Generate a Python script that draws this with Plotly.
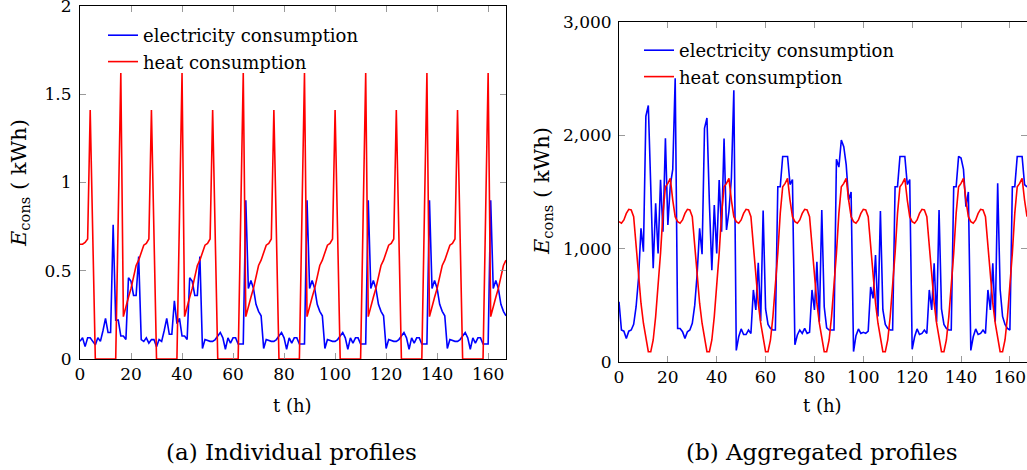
import plotly.graph_objects as go

# ---------------- data ----------------
hours = list(range(168))
x_tick_values = [0, 20, 40, 60, 80, 100, 120, 140, 160]

y_ticks_individual = [0, 0.5, 1, 1.5, 2]
y_ticklabels_individual = ["0", "0.5", "1", "1.5", "2"]
y_ticks_aggregated = [0, 1000, 2000, 3000]

elec_individual = [
    0.10, 0.12, 0.07, 0.12, 0.12, 0.10, 0.08, 0.12, 0.10, 0.16, 0.23, 0.15, 0.15, 0.76, 0.22, 0.22, 0.13, 0.13, 0.11, 0.46, 0.44, 0.36, 0.36, 0.58,
    0.11, 0.10, 0.12, 0.09, 0.11, 0.11, 0.07, 0.11, 0.10, 0.16, 0.23, 0.14, 0.14, 0.33, 0.20, 0.23, 0.13, 0.13, 0.11, 0.46, 0.44, 0.36, 0.36, 0.58,
    0.06, 0.11, 0.105, 0.10, 0.10, 0.11, 0.13, 0.15, 0.12, 0.055, 0.12, 0.09, 0.12, 0.12, 0.085, 0.085, 0.085, 0.90, 0.40, 0.445, 0.40, 0.31, 0.27, 0.245,
    0.06, 0.11, 0.105, 0.10, 0.10, 0.11, 0.13, 0.15, 0.12, 0.055, 0.12, 0.09, 0.12, 0.12, 0.085, 0.085, 0.085, 0.90, 0.40, 0.445, 0.40, 0.31, 0.27, 0.245,
    0.06, 0.11, 0.105, 0.10, 0.10, 0.11, 0.13, 0.15, 0.12, 0.055, 0.12, 0.09, 0.12, 0.12, 0.085, 0.085, 0.085, 0.90, 0.40, 0.445, 0.40, 0.31, 0.27, 0.245,
    0.06, 0.11, 0.105, 0.10, 0.10, 0.11, 0.13, 0.15, 0.12, 0.055, 0.12, 0.09, 0.12, 0.12, 0.085, 0.085, 0.085, 0.90, 0.40, 0.445, 0.40, 0.31, 0.27, 0.245,
    0.06, 0.11, 0.105, 0.10, 0.10, 0.11, 0.13, 0.15, 0.12, 0.055, 0.12, 0.09, 0.12, 0.12, 0.085, 0.085, 0.085, 0.90, 0.40, 0.445, 0.40, 0.31, 0.27, 0.245,
]

heat_individual = [
    0.65, 0.65, 0.66, 0.68, 1.41, 0.70, 0, 0, 0, 0, 0, 0, 0, 0, 0, 0.81, 1.62, 0.24, 0.30, 0.35, 0.40, 0.46, 0.53, 0.56,
    0.60, 0.645, 0.655, 0.68, 1.41, 0.70, 0, 0, 0, 0, 0, 0, 0, 0, 0, 0.81, 1.62, 0.24, 0.30, 0.35, 0.40, 0.46, 0.53, 0.56,
    0.60, 0.645, 0.655, 0.68, 1.41, 0.70, 0, 0, 0, 0, 0, 0, 0, 0, 0, 0.81, 1.62, 0.24, 0.30, 0.35, 0.40, 0.46, 0.53, 0.56,
    0.60, 0.645, 0.655, 0.68, 1.41, 0.70, 0, 0, 0, 0, 0, 0, 0, 0, 0, 0.81, 1.62, 0.24, 0.30, 0.35, 0.40, 0.46, 0.53, 0.56,
    0.60, 0.645, 0.655, 0.68, 1.41, 0.70, 0, 0, 0, 0, 0, 0, 0, 0, 0, 0.81, 1.62, 0.24, 0.30, 0.35, 0.40, 0.46, 0.53, 0.56,
    0.60, 0.645, 0.655, 0.68, 1.41, 0.70, 0, 0, 0, 0, 0, 0, 0, 0, 0, 0.81, 1.62, 0.24, 0.30, 0.35, 0.40, 0.46, 0.53, 0.56,
    0.60, 0.645, 0.655, 0.68, 1.41, 0.70, 0, 0, 0, 0, 0, 0, 0, 0, 0, 0.81, 1.62, 0.24, 0.30, 0.35, 0.40, 0.46, 0.53, 0.56,
]

elec_aggregated = [
    530, 280, 270, 206, 270, 280, 330, 486, 740, 1179, 973, 2170, 2265, 1550, 826, 1400, 957, 1608, 1148, 1974, 1208, 1560, 1700, 2505,
    293, 293, 265, 206, 265, 280, 339, 500, 780, 1179, 950, 2063, 2155, 1400, 808, 1384, 957, 1605, 1148, 1973, 1164, 1330, 1620, 2400,
    100, 220, 290, 240, 240, 280, 250, 634, 457, 875, 360, 1337, 466, 330, 295, 280, 280, 1547, 1547, 1814, 1814, 1814, 1566, 1610,
    150, 236, 280, 250, 295, 250, 260, 634, 457, 884, 354, 1341, 486, 300, 280, 280, 280, 1790, 1720, 1960, 1900, 1740, 1430, 1500,
    90, 230, 289, 250, 260, 250, 270, 660, 560, 943, 400, 1332, 460, 330, 295, 280, 280, 1547, 1547, 1814, 1814, 1814, 1566, 1610,
    110, 220, 290, 240, 250, 280, 250, 634, 457, 870, 354, 1340, 466, 330, 295, 280, 280, 1547, 1547, 1815, 1800, 1700, 1370, 1500,
    100, 220, 290, 240, 250, 280, 250, 634, 457, 870, 354, 1577, 640, 400, 330, 295, 280, 1547, 1547, 1814, 1814, 1814, 1566, 1545,
]

heat_aggregated = [
    1238, 1224, 1253, 1311, 1347, 1341, 1282, 1017, 752, 517, 340, 222, 88, 88, 192, 399, 664, 958, 1311, 1547, 1576, 1621, 1429, 1282,
    1238, 1224, 1253, 1311, 1347, 1341, 1282, 1017, 752, 517, 340, 222, 88, 88, 192, 399, 664, 958, 1311, 1547, 1576, 1621, 1429, 1282,
    1238, 1224, 1253, 1311, 1347, 1341, 1282, 1017, 752, 517, 340, 222, 88, 88, 192, 399, 664, 958, 1311, 1547, 1576, 1621, 1429, 1282,
    1238, 1224, 1253, 1311, 1347, 1341, 1282, 1017, 752, 517, 340, 222, 88, 88, 192, 399, 664, 958, 1311, 1547, 1576, 1621, 1429, 1282,
    1238, 1224, 1253, 1311, 1347, 1341, 1282, 1017, 752, 517, 340, 222, 88, 88, 192, 399, 664, 958, 1311, 1547, 1576, 1621, 1429, 1282,
    1238, 1224, 1253, 1311, 1347, 1341, 1282, 1017, 752, 517, 340, 222, 88, 88, 192, 399, 664, 958, 1311, 1547, 1576, 1621, 1429, 1282,
    1238, 1224, 1253, 1311, 1347, 1341, 1282, 1017, 752, 517, 340, 222, 88, 88, 192, 399, 664, 958, 1311, 1547, 1576, 1621, 1429, 1282,
]

series_names = ["electricity consumption", "heat consumption"]
x_title = "t (h)"
y_title = "<i>E</i><sub>cons</sub> ( kWh)"
captions = ["(a) Individual profiles", "(b) Aggregated profiles"]

# ---------------- figure ----------------
W, H = 1027, 470
FONT = "DejaVu Serif"
BLUE, RED = "#0000ff", "#ff0000"
LW = 1.6

fig = go.Figure()
fig.add_trace(go.Scatter(x=hours, y=elec_individual, name=series_names[0], mode="lines",
                         line=dict(color=BLUE, width=LW), xaxis="x", yaxis="y", legend="legend"))
fig.add_trace(go.Scatter(x=hours, y=heat_individual, name=series_names[1], mode="lines",
                         line=dict(color=RED, width=LW), xaxis="x", yaxis="y", legend="legend"))
fig.add_trace(go.Scatter(x=hours, y=elec_aggregated, name=series_names[0], mode="lines",
                         line=dict(color=BLUE, width=LW), xaxis="x2", yaxis="y2", legend="legend2"))
fig.add_trace(go.Scatter(x=hours, y=heat_aggregated, name=series_names[1], mode="lines",
                         line=dict(color=RED, width=LW), xaxis="x2", yaxis="y2", legend="legend2"))


def px_x(p):
    return p / W


def px_y(p):
    return 1 - p / H


axis_common = dict(
    showgrid=False, zeroline=False, showline=True, linecolor="black", linewidth=1,
    mirror="ticks", ticks="inside", ticklen=6, tickcolor="#9a9a9a", tickwidth=1,
    automargin=False, ticklabeloverflow="allow",
    tickfont=dict(family=FONT, size=17, color="black"),
)

fig.update_layout(
    template="none",
    width=W, height=H,
    margin=dict(l=0, r=0, t=0, b=0, pad=0, autoexpand=False),
    paper_bgcolor="white", plot_bgcolor="white",
    font=dict(family=FONT, size=18, color="black"),
    hovermode=False,
    xaxis=dict(domain=[px_x(80), px_x(506)], range=[0, 167], tickvals=x_tick_values,
               anchor="y", ticklabelstandoff=0, **axis_common),
    yaxis=dict(domain=[px_y(359), px_y(6)], range=[0, 2], tickvals=y_ticks_individual,
               ticktext=y_ticklabels_individual, anchor="x", ticklabelstandoff=4, **axis_common),
    xaxis2=dict(domain=[px_x(619), 1.0], range=[0, 167], tickvals=x_tick_values,
                anchor="y2", ticklabelstandoff=0, **axis_common),
    yaxis2=dict(domain=[px_y(361.7), px_y(22.3)], range=[0, 3000], tickvals=y_ticks_aggregated,
                tickformat=",", anchor="x2", ticklabelstandoff=3, **axis_common),
    legend=dict(x=px_x(103), y=px_y(17), xanchor="left", yanchor="top",
                bgcolor="rgba(0,0,0,0)", font=dict(family=FONT, size=18), borderwidth=0),
    legend2=dict(x=px_x(639), y=px_y(32), xanchor="left", yanchor="top",
                 bgcolor="rgba(0,0,0,0)", font=dict(family=FONT, size=18), borderwidth=0),
    showlegend=True,
)

annotations = [
    dict(text=y_title, x=px_x(20), y=px_y(183), textangle=-90, size=21),
    dict(text=y_title, x=px_x(543), y=px_y(191), textangle=-90, size=21),
    dict(text=x_title, x=px_x(292), y=px_y(405), size=18),
    dict(text=x_title, x=px_x(822), y=px_y(405), size=18),
    dict(text=captions[0], x=px_x(291), y=px_y(452), size=23),
    dict(text=captions[1], x=px_x(822), y=px_y(452), size=23),
]
for a in annotations:
    size = a.pop("size")
    fig.add_annotation(xref="paper", yref="paper", showarrow=False, xanchor="center", yanchor="middle",
                       font=dict(family=FONT, size=size, color="black"), **a)

fig.write_html("out.html", config={"displayModeBar": False, "staticPlot": True},
               post_script="document.body.style.margin='0px';document.body.style.overflow='hidden';")
